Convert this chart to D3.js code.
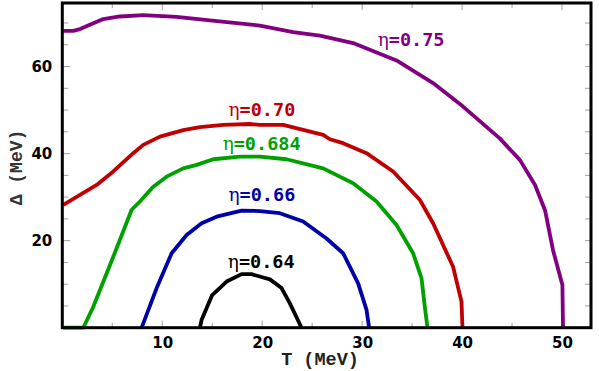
<!DOCTYPE html>
<html><head><meta charset="utf-8">
<script src="https://cdn.jsdelivr.net/npm/d3@7"></script>
<style>body{margin:0;background:#fff}svg{display:block}</style>
</head><body>
<script>
// ---- data (T in MeV, Delta in MeV) ----
const etaLabels = ["0.64", "0.66", "0.684", "0.70", "0.75"];
const curve064 = [[13.77,0],[13.94,1.8],[15.0,7.5],[16.44,10.6],[17.94,12.3],[18.94,12.3],[20.77,11.1],[21.94,9.1],[22.77,5.6],[23.94,0]];
const curve066 = [[7.94,0],[9.44,9.1],[10.94,17.1],[12.44,21.3],[13.94,24.0],[15.44,25.5],[17.94,26.9],[19.77,26.8],[21.77,26.3],[24.1,24.4],[26.44,20.5],[28.1,17.1],[29.6,10.2],[30.44,4.1],[30.7,0]];
const curve0684 = [[0.1,0],[2.1,0],[3.1,4.8],[5.1,16.3],[6.94,27.1],[7.77,29.0],[9.1,32.4],[10.44,34.7],[12.1,36.6],[13.44,37.4],[15.1,38.7],[17.77,39.3],[19.77,39.3],[22.44,38.7],[26.1,36.6],[29.1,33.2],[31.44,29.0],[33.44,23.6],[35.1,17.1],[35.94,11.4],[36.27,4.8],[36.54,0]];
const curve070 = [[0.1,28.2],[3.44,32.8],[5.1,35.9],[7.1,40.1],[8.1,42.0],[9.77,43.9],[12.1,45.4],[13.77,46.1],[16.1,46.6],[18.77,46.8],[19.77,46.6],[22.1,46.6],[26.1,44.3],[26.77,43.3],[28.1,42.4],[30.44,40.1],[33.1,35.9],[35.77,29.4],[37.1,24.0],[39.1,14.0],[39.94,6.0],[40.04,0]];
const curve075 = [[0.1,68.2],[1.1,68.2],[1.77,68.6],[4.1,70.9],[5.77,71.5],[8.1,71.8],[11.44,71.4],[14.77,70.6],[17.44,70.0],[19.77,69.4],[23.1,67.9],[25.77,67.1],[29.1,65.4],[33.44,61.4],[37.1,56.2],[40.1,50.8],[43.77,43.5],[45.8,38.5],[47.3,32.8],[48.3,27.0],[49.1,17.8],[50.04,9.8],[50.1,0]];
const labelAnchorT = [19.9, 19.97, 19.94, 19.97, 34.9];
const labelAnchorD = [13.8, 29.0, 40.85, 48.7, 64.8];
const xTicks = [10, 20, 30, 40, 50];
const yTicks = [20, 40, 60];
const xTitle = "T (MeV)";
const yTitle = "\u0394 (MeV)";

// ---- chart ----
const W = 599, H = 371;
const colors = ["#000000", "#0000a8", "#00a000", "#c00000", "#800080"];
const curves = [curve064, curve066, curve0684, curve070, curve075];

const x = d3.scaleLinear().domain([0, 52.9]).range([62.3, 591]);
const y = d3.scaleLinear().domain([0, 74.6]).range([327.7, 3]);

const svg = d3.select("body").append("svg").attr("width", W).attr("height", H);

const minorX = d3.range(0, 53, 5), minorY = d3.range(0, 75, 5);
const tg = svg.append("g").attr("stroke", "#a0a0a0").attr("stroke-width", 1);
minorX.forEach(v => {
  const L = v % 10 === 0 ? 7 : 5;
  tg.append("line").attr("x1", x(v)).attr("x2", x(v)).attr("y1", y(0)).attr("y2", y(0) - L);
  tg.append("line").attr("x1", x(v)).attr("x2", x(v)).attr("y1", y(74.6)).attr("y2", y(74.6) + L);
});
minorY.forEach(v => {
  const L = v % 20 === 0 ? 8 : 6;
  tg.append("line").attr("x1", x(0)).attr("x2", x(0) + L).attr("y1", y(v)).attr("y2", y(v));
  tg.append("line").attr("x1", x(52.9)).attr("x2", x(52.9) - 6).attr("y1", y(v)).attr("y2", y(v));
});

// axes labels via d3 axes (ticks hidden)
const xAxis = svg.append("g").attr("transform", `translate(0,${y(0)})`)
  .call(d3.axisBottom(x).tickValues(xTicks).tickSize(0).tickPadding(10).tickFormat(d3.format("d")));
const yAxis = svg.append("g").attr("transform", `translate(${x(0)},0)`)
  .call(d3.axisLeft(y).tickValues(yTicks).tickSize(0).tickPadding(10).tickFormat(d3.format("d")));
[xAxis, yAxis].forEach(a => {
  a.select(".domain").remove();
  a.selectAll("text").attr("font-family", "DejaVu Sans").attr("font-weight", "bold")
    .attr("font-size", 15).attr("fill", "#000");
});
yAxis.selectAll("text").attr("dy", "0.35em");

// curves
const line = d3.line().x(d => x(d[0])).y(d => y(d[1]));
curves.forEach((c, i) => {
  svg.append("path").attr("d", line(c)).attr("fill", "none")
    .attr("stroke", colors[i]).attr("stroke-width", 3.8)
    .attr("stroke-linejoin", "round").attr("stroke-linecap", "butt");
});

// frame
svg.append("rect").attr("x", x(0)).attr("y", y(74.6))
  .attr("width", x(52.9) - x(0)).attr("height", y(0) - y(74.6))
  .attr("fill", "none").attr("stroke", "#000").attr("stroke-width", 3);

// curve labels
etaLabels.forEach((lab, i) => {
  const t = svg.append("text").attr("x", x(labelAnchorT[i])).attr("y", y(labelAnchorD[i]))
    .attr("text-anchor", "middle").attr("fill", colors[i])
    .attr("font-family", "DejaVu Sans Mono").attr("font-size", 18.5);
  t.append("tspan").attr("font-family", "DejaVu Serif").attr("font-weight", "normal").text("\u03b7");
  t.append("tspan").attr("font-weight", "bold").text("=" + lab);
});

// axis titles
svg.append("text").attr("x", 320).attr("y", 365).attr("text-anchor", "middle")
  .attr("font-family", "Liberation Mono").attr("font-weight", "bold").attr("font-size", 18.5)
  .attr("fill", "#222").text(xTitle);
svg.append("text").attr("transform", "translate(22,167.5) rotate(-90)").attr("text-anchor", "middle")
  .attr("font-family", "Liberation Mono").attr("font-weight", "bold").attr("font-size", 18)
  .attr("fill", "#333").text(yTitle);
</script>
</body></html>
